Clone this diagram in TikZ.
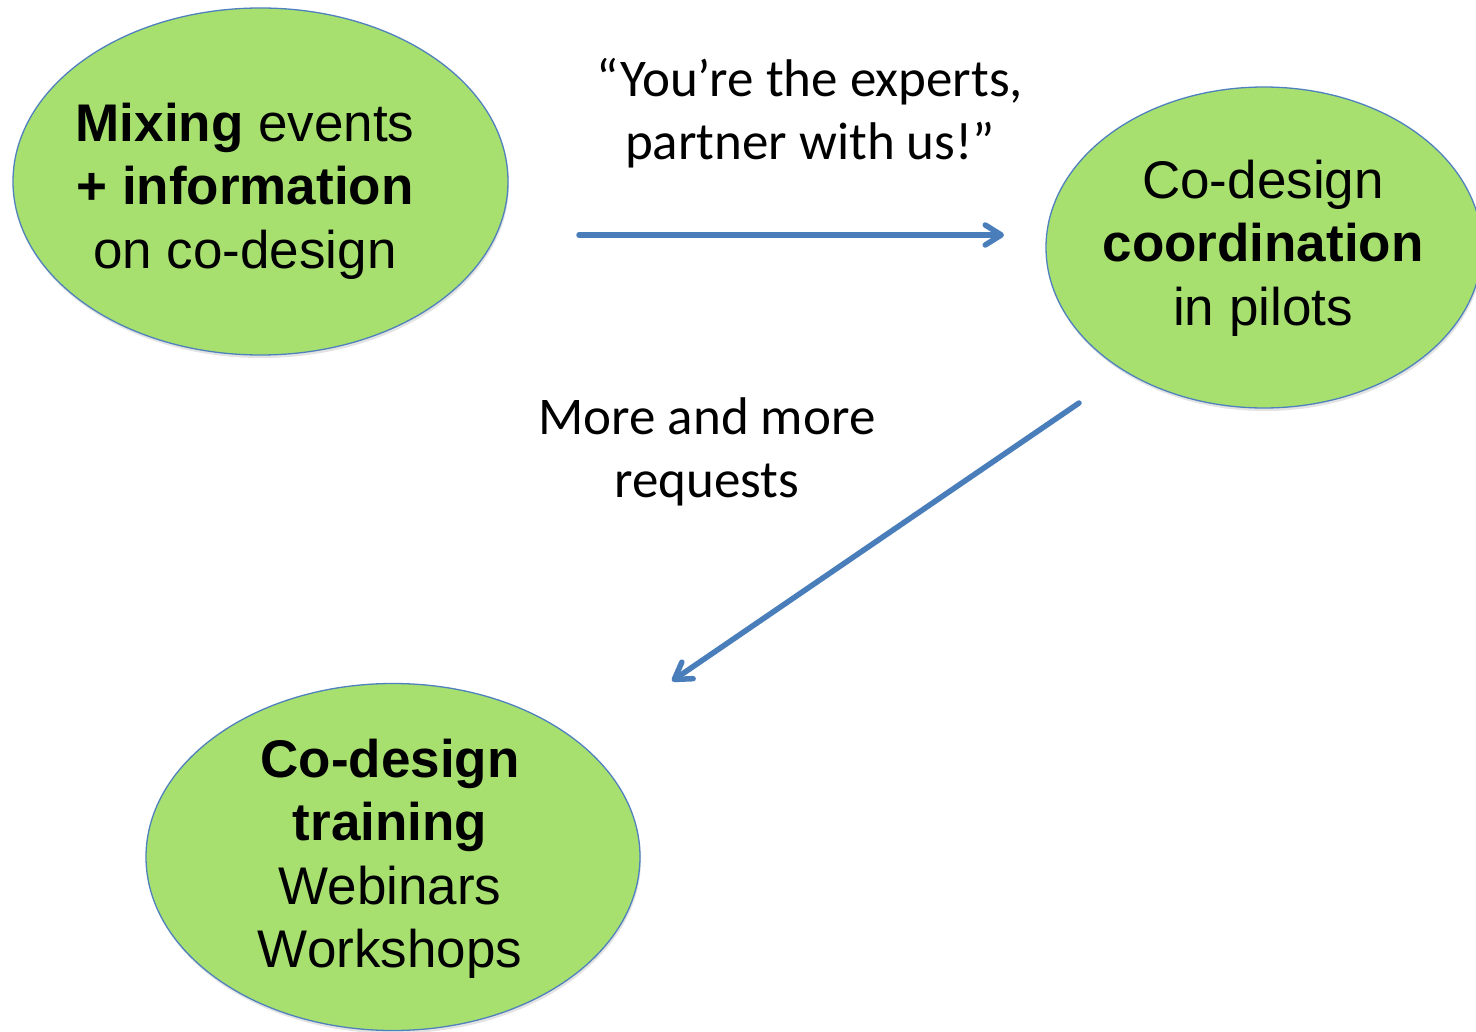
\documentclass[tikz,border=0pt]{standalone}
\usepackage{fontspec}
\setmainfont{Liberation Sans}
\newfontfamily\calibri{Carlito}
\usetikzlibrary{shapes.geometric,arrows.meta,shadows}
\definecolor{blobfill}{HTML}{A8E070}
\definecolor{blobline}{HTML}{4F81BD}
\definecolor{arrowblue}{HTML}{4A7EBB}
\begin{document}
\begin{tikzpicture}[x=1pt,y=-1pt,
  blob/.style={ellipse, draw=blobline, line width=1.3pt, fill=blobfill, inner sep=0pt,
    drop shadow={opacity=0.22, shadow xshift=1pt, shadow yshift=-3pt}},
  blobtext/.style={align=center, inner sep=0pt, font=\fontsize{53}{63.5}\selectfont},
  lbl/.style={align=center, inner sep=0pt, font=\calibri\fontsize{53}{63.5}\selectfont},
  flow/.style={draw=arrowblue, line width=5.5pt, line cap=round,
    -{Straight Barb[length=16pt,width=20pt,line cap=round,line join=round]}}]
\useasboundingbox (0,0) rectangle (1476,1032);
\clip (0,0) rectangle (1476,1032);
\fill[white] (0,0) rectangle (1476,1032);

\node[blob, minimum width=495pt, minimum height=347pt] (mix) at (260.5,181.5) {};
\node[blob, minimum width=436pt, minimum height=321pt] (coord) at (1264,247.5) {};
\node[blob, minimum width=494pt, minimum height=347pt] (train) at (393,857) {};

\node[blobtext] (mixtext) at (245,191) {\textbf{Mixing} events\\ \textbf{+ information}\\ on co-design};
\node[blobtext] (coordtext) at (1263,248) {Co-design\\ \textbf{coordination}\\ in pilots};
\node[blobtext] (traintext) at (390,859) {\textbf{Co-design}\\ \textbf{training}\\ Webinars\\ Workshops};

\node[lbl] (quote) at (810,113) {“You’re the experts,\\ partner with us!”};
\node[lbl] (more) at (707,452) {More and more\\ requests};

\coordinate (a1s) at (579,235);
\coordinate (a1e) at (1004,235);
\coordinate (a2s) at (1079,403);
\coordinate (a2e) at (672,681);
\draw[flow] (a1s) -- (a1e);
\draw[flow] (a2s) -- (a2e);
\end{tikzpicture}
\end{document}
